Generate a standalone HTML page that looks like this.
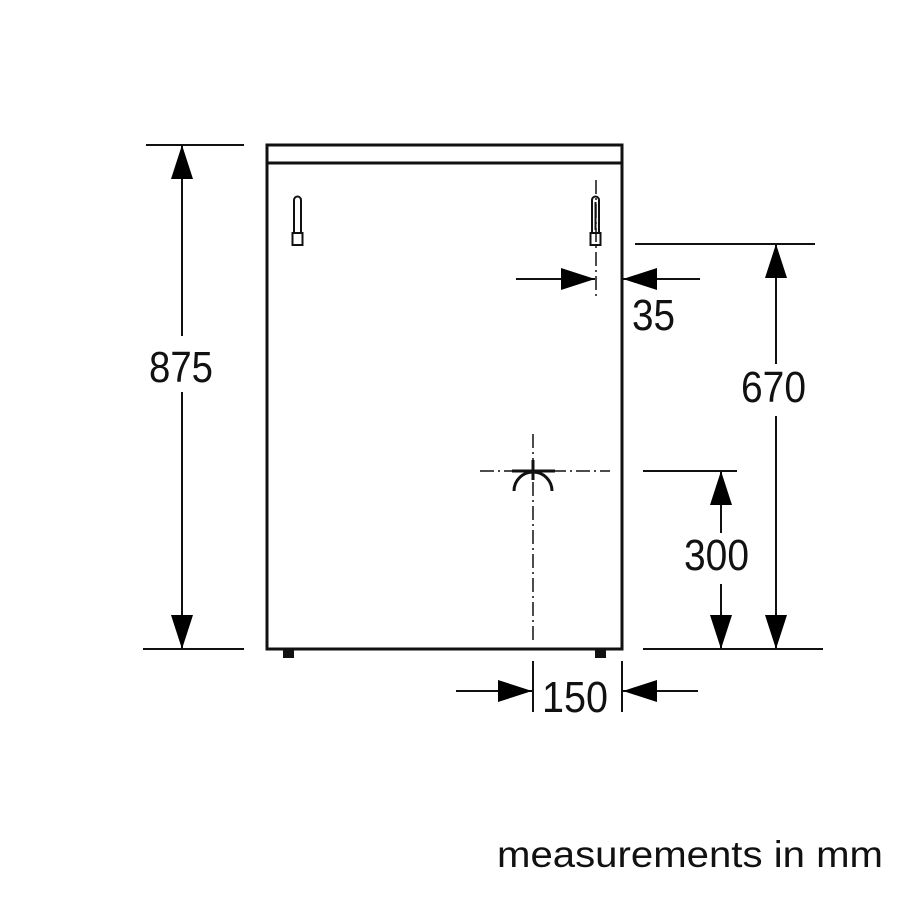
<!DOCTYPE html>
<html><head><meta charset="utf-8"><style>html,body{margin:0;padding:0;background:#fff}svg{display:block}</style></head>
<body>
<svg width="900" height="900" viewBox="0 0 900 900" xmlns="http://www.w3.org/2000/svg" font-family="Liberation Sans, Arial, sans-serif" fill="#111">
<defs>
<marker id="a" viewBox="0 0 34 22" refX="34" refY="11" markerWidth="34" markerHeight="22" markerUnits="userSpaceOnUse" orient="auto"><path d="M0,0 L34,11 L0,22 Z" fill="#000"/></marker>
</defs>
<g stroke="#111" fill="none">
<rect x="267" y="145" width="355" height="504" stroke-width="3"/>
<line x1="267" y1="163" x2="622" y2="163" stroke-width="3"/>
<path d="M294,245 V200 a3.5,3.5 0 0 1 7,0 V245" stroke-width="2"/>
<rect x="292.5" y="233" width="10" height="12" stroke-width="2" fill="#fff"/>
<path d="M592,245 V200 a3.5,3.5 0 0 1 7,0 V245" stroke-width="2"/>
<line x1="595.5" y1="202" x2="595.5" y2="230" stroke-width="2"/>
<rect x="590.5" y="233" width="10" height="12" stroke-width="2" fill="#fff"/>
<line x1="596" y1="180" x2="596" y2="296" stroke-width="1.5" stroke-dasharray="14,4,2,4"/>
<line x1="146" y1="145" x2="244" y2="145" stroke-width="2"/>
<line x1="143" y1="649" x2="244" y2="649" stroke-width="2"/>
<line x1="182" y1="336" x2="182" y2="145" stroke-width="2" marker-end="url(#a)"/>
<line x1="182" y1="392" x2="182" y2="649" stroke-width="2" marker-end="url(#a)"/>
<line x1="635" y1="244" x2="815" y2="244" stroke-width="2"/>
<line x1="643" y1="649" x2="823" y2="649" stroke-width="2"/>
<line x1="776" y1="364" x2="776" y2="244" stroke-width="2" marker-end="url(#a)"/>
<line x1="776" y1="416" x2="776" y2="649" stroke-width="2" marker-end="url(#a)"/>
<line x1="643" y1="471" x2="737" y2="471" stroke-width="2"/>
<line x1="721" y1="533" x2="721" y2="471" stroke-width="2" marker-end="url(#a)"/>
<line x1="721" y1="584" x2="721" y2="649" stroke-width="2" marker-end="url(#a)"/>
<line x1="516" y1="279" x2="595" y2="279" stroke-width="2" marker-end="url(#a)"/>
<line x1="700" y1="279" x2="623" y2="279" stroke-width="2" marker-end="url(#a)"/>
<line x1="533" y1="661" x2="533" y2="712" stroke-width="2"/>
<line x1="622" y1="661" x2="622" y2="712" stroke-width="2"/>
<line x1="456" y1="691" x2="532" y2="691" stroke-width="2" marker-end="url(#a)"/>
<line x1="698" y1="691" x2="623" y2="691" stroke-width="2" marker-end="url(#a)"/>
<line x1="480" y1="471" x2="610" y2="471" stroke-width="1.5" stroke-dasharray="14,4,2,4"/>
<line x1="533" y1="434" x2="533" y2="643" stroke-width="1.5" stroke-dasharray="14,4,2,4"/>
<line x1="512" y1="471" x2="555" y2="471" stroke-width="3"/>
<line x1="533" y1="460" x2="533" y2="480" stroke-width="3"/>
<path d="M514,491 A19,19 0 0 1 552,491" stroke-width="3"/>
</g>
<rect x="283" y="650" width="11" height="8" fill="#111"/>
<rect x="595" y="650" width="11" height="8" fill="#111"/>
<g font-size="44">
<text x="149" y="382" textLength="64" lengthAdjust="spacingAndGlyphs">875</text>
<text x="741" y="402" textLength="65" lengthAdjust="spacingAndGlyphs">670</text>
<text x="684" y="570" textLength="65" lengthAdjust="spacingAndGlyphs">300</text>
<text x="632" y="330" textLength="43" lengthAdjust="spacingAndGlyphs">35</text>
<text x="542" y="712" textLength="66" lengthAdjust="spacingAndGlyphs">150</text>
</g>
<text x="497" y="867" font-size="37" textLength="386" lengthAdjust="spacingAndGlyphs">measurements in mm</text>
</svg>
</body></html>
